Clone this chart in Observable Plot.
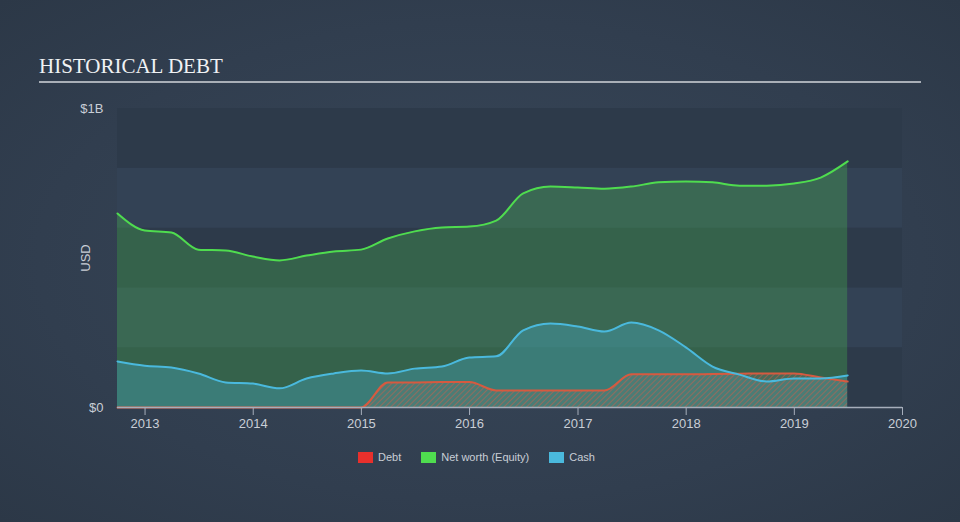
<!DOCTYPE html>
<html><head><meta charset="utf-8">
<script src="https://cdn.jsdelivr.net/npm/d3@7"></script>
<script src="https://cdn.jsdelivr.net/npm/@observablehq/plot@0.6"></script>
<style>
html,body{margin:0;padding:0;}
body{width:960px;height:522px;overflow:hidden;position:relative;background:radial-gradient(ellipse at 50% 50%, #384759 0%, #313e4f 65%, #2c3847 100%);font-family:"Liberation Sans",Arial,sans-serif;}
#title{position:absolute;left:39px;top:56px;font-family:"Liberation Serif","Times New Roman",serif;font-size:21px;line-height:21px;color:#f0f2f4;white-space:nowrap;}
#rule{position:absolute;left:39px;top:81px;width:882px;height:2px;background:#a9afb7;}
#chart{position:absolute;left:0;top:90px;}
#legend{position:absolute;left:358px;top:451px;display:flex;align-items:center;font-size:11px;color:#c9ced6;white-space:nowrap;}
#legend .item{display:flex;align-items:center;margin-right:20px;}
#legend .sw{width:15px;height:11px;margin-right:5px;}
</style>
</head><body>
<div id="title">HISTORICAL DEBT</div>
<div id="rule"></div>
<div id="chart"></div>
<div id="legend"></div>
<script>
// Quarter-end dates
const dates = ["2012-09-30","2012-12-31","2013-03-31","2013-06-30","2013-09-30","2013-12-31",
  "2014-03-31","2014-06-30","2014-09-30","2014-12-31","2015-03-31","2015-06-30","2015-09-30","2015-12-31",
  "2016-03-31","2016-06-30","2016-09-30","2016-12-31","2017-03-31","2017-06-30","2017-09-30","2017-12-31",
  "2018-03-31","2018-06-30","2018-09-30","2018-12-31","2019-03-31","2019-06-30"];
// values in USD billions
const netWorth = [0.649,0.592,0.585,0.528,0.525,0.505,0.492,0.508,0.522,0.528,0.565,0.589,0.602,0.605,
  0.625,0.716,0.739,0.736,0.732,0.739,0.753,0.756,0.753,0.742,0.742,0.749,0.769,0.823];
const cash = [0.154,0.140,0.134,0.114,0.084,0.080,0.064,0.097,0.114,0.124,0.114,0.130,0.137,0.167,
  0.171,0.258,0.281,0.271,0.254,0.284,0.258,0.201,0.137,0.110,0.087,0.097,0.097,0.107];
const debt = [0,0,0,0,0,0,0,0,0,0,0.084,0.084,0.085,0.085,
  0.057,0.057,0.057,0.057,0.057,0.111,0.111,0.111,0.112,0.113,0.114,0.114,0.100,0.087];
const yearTicks = ["2013","2014","2015","2016","2017","2018","2019","2020"];
const yTicks = [0, 1];
const yTickLabels = ["$0", "$1B"];
const bandStarts = [0, 0.2, 0.4, 0.6, 0.8];
const seriesNames = ["Debt", "Net worth (Equity)", "Cash"];
const seriesColors = ["#e8302c", "#4fdc4f", "#4ab9dd"];

const parse = d3.utcParse("%Y-%m-%d");
const data = dates.map((d, i) => ({date: parse(d), netWorth: netWorth[i], cash: cash[i], debt: debt[i]}));
const xDomain = [parse("2012-09-30"), parse("2020-01-01")];
const tickDates = yearTicks.map(y => parse(y + "-01-01"));
const bands = bandStarts.map((b, i) => ({y1: b, y2: b + 0.2, dark: i % 2 === 0}));

const curve = "monotone-x";
const chart = Plot.plot({
  width: 960, height: 350,
  marginTop: 18, marginBottom: 33, marginLeft: 117, marginRight: 58,
  style: {background: "transparent", fontFamily: "Liberation Sans, Arial, sans-serif", fontSize: "13px", color: "#c9ced6", overflow: "visible"},
  x: {type: "utc", domain: xDomain},
  y: {domain: [0, 1]},
  marks: [
    Plot.rect(bands, {x1: () => xDomain[0], x2: () => xDomain[1], y1: "y1", y2: "y2", fill: d => d.dark ? "#2d3a4a" : "#334255"}),
    Plot.areaY(data, {x: "date", y: "netWorth", fill: seriesColors[1], fillOpacity: 0.25, curve}),
    Plot.areaY(data, {x: "date", y: "cash", fill: seriesColors[2], fillOpacity: 0.3, curve}),
    Plot.areaY(data, {x: "date", y: "debt", fill: "url(#hatch)", curve}),
    Plot.lineY(data, {x: "date", y: "debt", stroke: "#d65a40", strokeWidth: 2, curve}),
    Plot.lineY(data, {x: "date", y: "netWorth", stroke: seriesColors[1], strokeWidth: 2, curve}),
    Plot.lineY(data, {x: "date", y: "cash", stroke: seriesColors[2], strokeWidth: 2, curve}),
    Plot.ruleY([0], {stroke: "#a6aebb", strokeWidth: 1.5}),
    Plot.axisX({ticks: tickDates, tickFormat: d3.utcFormat("%Y"), tickSize: 8, tickPadding: 3, stroke: "#a6aebb", fill: "#c9ced6", fontSize: 13, label: null}),
    Plot.axisY({ticks: yTicks, tickFormat: (d) => yTickLabels[yTicks.indexOf(d)], tickSize: 0, tickPadding: 14, fill: "#c9ced6", fontSize: 13, label: "USD", labelAnchor: "center", labelArrow: "none", labelOffset: 37})
  ]
});
// hatch pattern for debt area
const svg = d3.select(chart);
const defs = svg.insert("defs", ":first-child");
const pat = defs.append("pattern").attr("id", "hatch").attr("patternUnits", "userSpaceOnUse")
  .attr("width", 4).attr("height", 4).attr("patternTransform", "rotate(45)");
pat.append("rect").attr("width", 4).attr("height", 4).attr("fill", "#6a7c72").attr("fill-opacity", 0.35);
pat.append("line").attr("x1", 0).attr("y1", 0).attr("x2", 0).attr("y2", 4).attr("stroke", "#c8614a").attr("stroke-width", 2).attr("stroke-opacity", 0.55);
document.getElementById("chart").appendChild(chart);

const legend = d3.select("#legend");
seriesNames.forEach((n, i) => {
  const it = legend.append("div").attr("class", "item");
  it.append("div").attr("class", "sw").style("background", seriesColors[i]);
  it.append("span").text(n);
});
</script>
</body></html>
